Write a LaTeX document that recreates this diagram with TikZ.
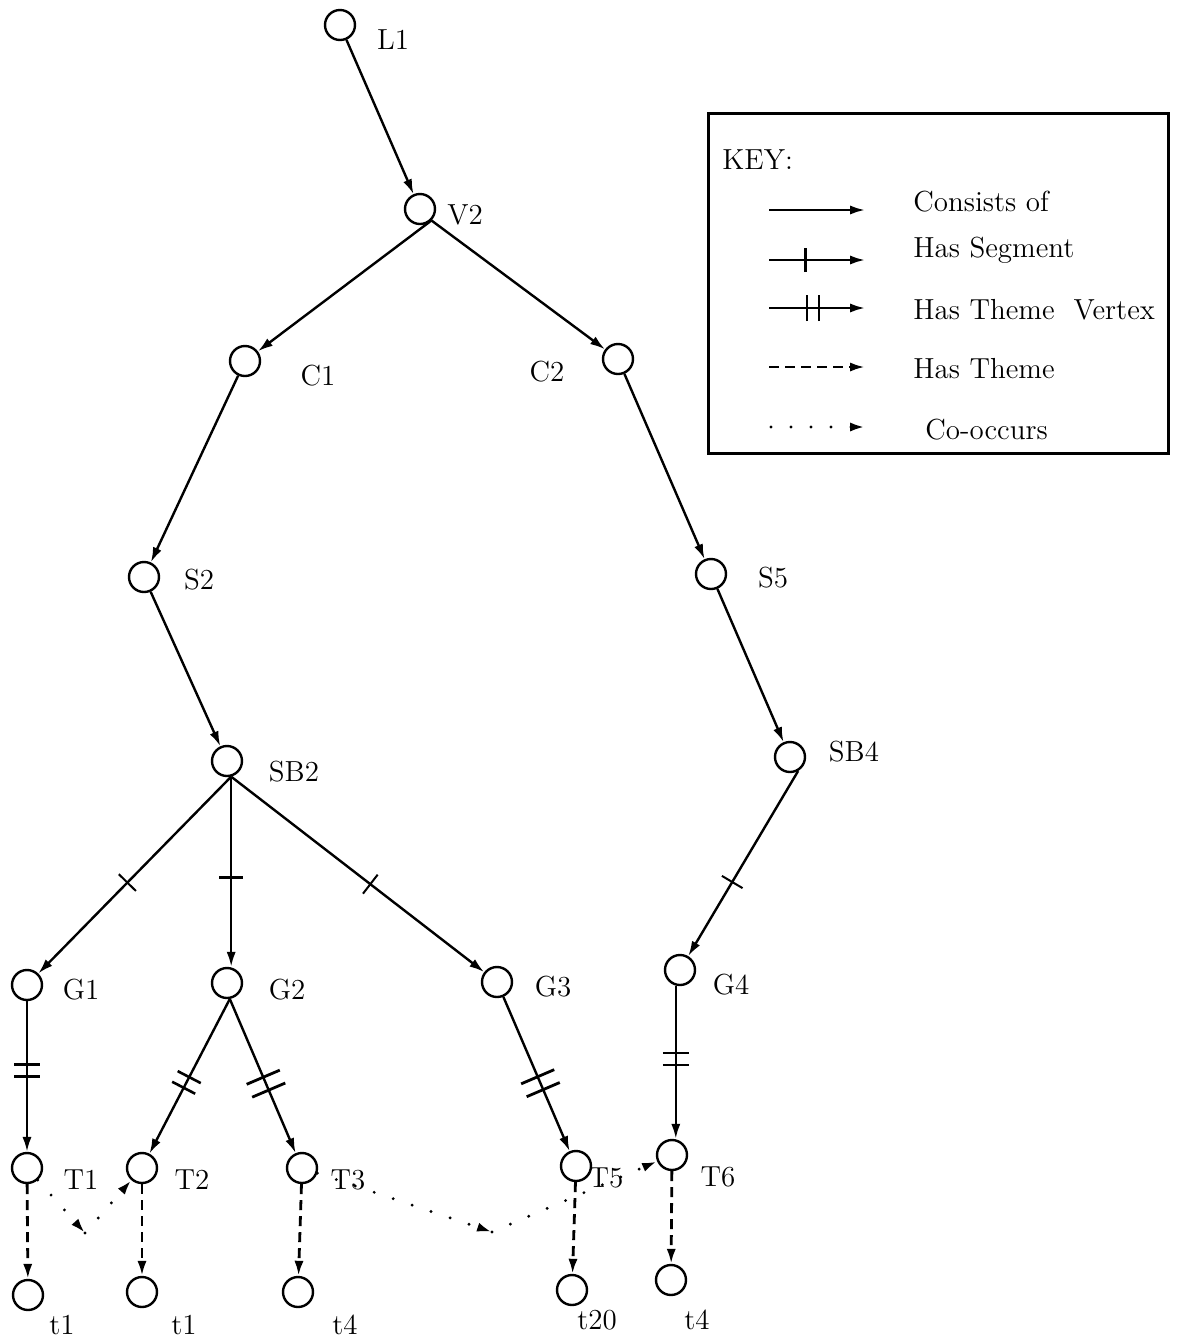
\documentclass[tikz,border=0pt]{standalone}
\usetikzlibrary{arrows.meta,decorations.markings}
\begin{document}
\begin{tikzpicture}[x=0.5pt,y=-0.5pt,
 vtx/.style={circle,draw,line width=1.2pt,minimum size=15pt,inner sep=0pt},
 lbl/.style={inner sep=0pt,font=\fontsize{14.5}{17}\selectfont},
 tipx/.style={-{Latex[length=7.5pt,width=4.6pt]}},
 cons/.style={draw,line width=1.2pt,tipx},
 seg/.style={cons,postaction={decorate},decoration={markings,mark=at position #1 with {\draw[-,solid,line width=1pt] (0,-6pt)--(0,6pt);}}},
 seg/.default=0.53,
 segb/.style={cons,postaction={decorate},decoration={markings,mark=at position #1 with {\draw[-,solid,line width=1.4pt] (0,-6pt)--(0,6pt);}}},
 thv/.style={cons,postaction={decorate},decoration={markings,mark=at position #1 with {\draw[-,solid,line width=1.3pt] (-3pt,-6.5pt)--(-3pt,6.5pt) (3pt,-6.5pt)--(3pt,6.5pt);}}},
 thv/.default=0.5,
 thvl/.style={cons,postaction={decorate},decoration={markings,mark=at position #1 with {\draw[-,solid,line width=1.4pt] (-3.5pt,-9pt)--(-3.5pt,9pt) (3.5pt,-9pt)--(3.5pt,9pt);}}},
 thm/.style={draw,line width=1.4pt,dash pattern=on 5pt off 3pt,tipx},
 cooc/.style={draw,line width=1.6pt,line cap=round,dash pattern=on 0pt off 10pt,tipx},
]
\useasboundingbox (0,0) rectangle (1201,1340);

% vertices
\node[vtx] (L1) at (340,25) {};
\node[vtx] (V2) at (420,209) {};
\node[vtx] (C1) at (245,361) {};
\node[vtx] (C2) at (618,359) {};
\node[vtx] (S2) at (144,577) {};
\node[vtx] (S5) at (711,574) {};
\node[vtx] (SB2) at (227,761) {};
\node[vtx] (SB4) at (790,757) {};
\node[vtx] (G1) at (27,985) {};
\node[vtx] (G2) at (227,983) {};
\node[vtx] (G3) at (497,982) {};
\node[vtx] (G4) at (680,970) {};
\node[vtx] (T1) at (27,1168) {};
\node[vtx] (T2) at (142,1168) {};
\node[vtx] (T3) at (302,1168) {};
\node[vtx] (T5) at (576,1166) {};
\node[vtx] (T6) at (672,1155) {};
\node[vtx] (ta) at (28,1295) {};
\node[vtx] (tb) at (142,1292) {};
\node[vtx] (tc) at (298,1292) {};
\node[vtx] (td) at (572,1290) {};
\node[vtx] (te) at (671,1280) {};

% labels
\node[lbl] (lL1) at (393,40) {L1};
\node[lbl] (lV2) at (465,215) {V2};
\node[lbl] (lC1) at (318,376) {C1};
\node[lbl] (lC2) at (547,372) {C2};
\node[lbl] (lS2) at (199,580) {S2};
\node[lbl] (lS5) at (773,578) {S5};
\node[lbl] (lSB2) at (294,772) {SB2};
\node[lbl] (lSB4) at (854,752) {SB4};
\node[lbl] (lG1) at (81,990) {G1};
\node[lbl] (lG2) at (287,990) {G2};
\node[lbl] (lG3) at (553,987) {G3};
\node[lbl] (lG4) at (731,985) {G4};
\node[lbl] (lT1) at (81,1180) {T1};
\node[lbl] (lT2) at (192,1180) {T2};
\node[lbl] (lT3) at (348,1180) {T3};
\node[lbl] (lT5) at (606,1178) {T5};
\node[lbl] (lT6) at (718,1177) {T6};
\node[lbl] (lta) at (62,1325) {t1};
\node[lbl] (ltb) at (184,1325) {t1};
\node[lbl] (ltc) at (345,1325) {t4};
\node[lbl] (ltd) at (597,1320) {t20};
\node[lbl] (lte) at (697,1320) {t4};

% consists of
\draw[cons] (L1) -- (V2);
\draw[cons] (V2.south east) -- (C1);
\draw[cons] (V2.south east) -- (C2);
\draw[cons] (C1) -- (S2);
\draw[cons] (C2) -- (S5);
\draw[cons] (S2) -- (SB2);
\draw[cons] (S5) -- (SB4);

% has segment
\draw[seg=0.54] (SB2.-75) -- (G1);
\draw[segb=0.53] (SB2.-75) -- (SB2.-75 |- G2.north);
\draw[seg=0.55] (SB2.-75) -- (G3);
\draw[seg=0.6] (SB4.-60) -- (G4);

% has theme vertex
\draw[thv=0.46] (G1) -- (T1);
\draw[thv=0.54] (G2.-80) -- (T2);
\draw[thvl=0.55] (G2.-80) -- (T3);
\draw[thvl=0.56] (G3) -- (T5);
\draw[thv=0.48] (G4.-105) -- (G4.-105 |- T6.north);

% has theme
\draw[thm] (T1) -- (ta);
\draw[thm] (T2) -- (tb);
\draw[thm] (T3) -- (tc);
\draw[thm] (T5) -- (td);
\draw[thm] (T6) -- (te);

% co-occurs
\coordinate (cB) at (85,1233);
\coordinate (cA) at (492,1232);
\draw[cooc] (T1) -- (cB);
\draw[cooc] (cB) -- (T2);
\draw[cooc] (T3) -- (cA);
\draw[cooc] (cA) -- (T6);

% key
\draw[line width=1.5pt] (708,113) rectangle (1168,453);
\node[lbl,anchor=west] (kkey) at (722,160) {KEY:};
\coordinate (k1a) at (769,210); \coordinate (k1b) at (865,210);
\coordinate (k2a) at (769,260); \coordinate (k2b) at (865,260);
\coordinate (k3a) at (769,308); \coordinate (k3b) at (865,308);
\coordinate (k4a) at (769,367); \coordinate (k4b) at (865,367);
\coordinate (k5a) at (771,427); \coordinate (k5b) at (865,427);
\draw[cons] (k1a) -- (k1b);
\draw[segb=0.38] (k2a) -- (k2b);
\draw[thv=0.46] (k3a) -- (k3b);
\draw[thm] (k4a) -- (k4b);
\draw[cooc] (k5a) -- (k5b);
\node[lbl,anchor=west] (kt1) at (913,202) {Consists of};
\node[lbl,anchor=west] (kt2) at (913,250) {Has Segment};
\node[lbl,anchor=west] (kt3) at (913,310) {Has Theme\ \ Vertex};
\node[lbl,anchor=west] (kt4) at (913,369) {Has Theme};
\node[lbl,anchor=west] (kt5) at (925,430) {Co-occurs};
\end{tikzpicture}
\end{document}
